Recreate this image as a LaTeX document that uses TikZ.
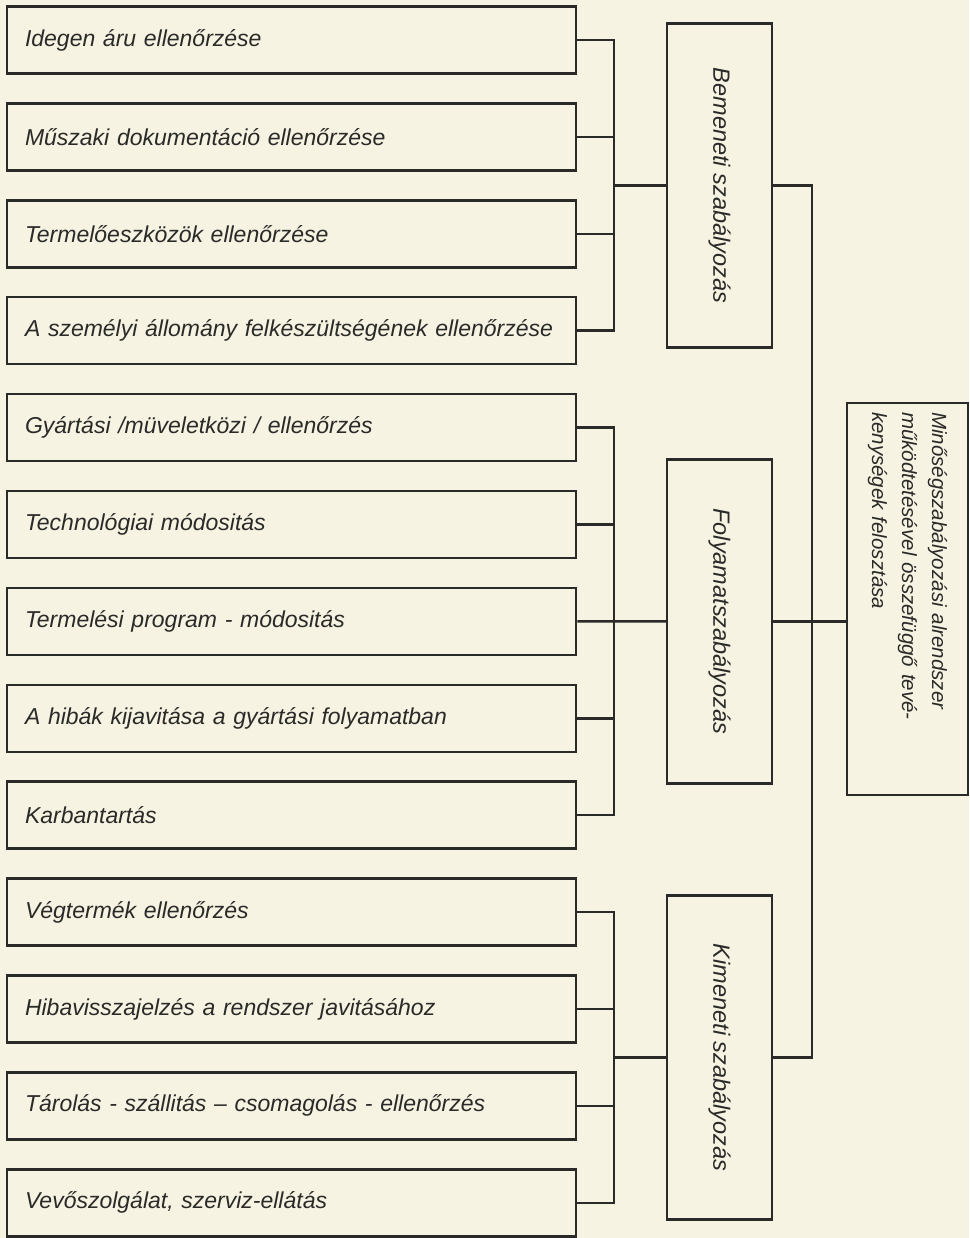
\documentclass[tikz,border=0pt]{standalone}
\usepackage{fontspec}
\setmainfont{Liberation Sans}
\definecolor{paper}{RGB}{246,243,226}
\definecolor{ink}{RGB}{42,42,40}

\begin{document}
\begin{tikzpicture}[x=1pt, y=-1pt, node distance=96.9pt, color=ink, line width=2.5pt,
    item/.style={draw, rectangle, text width=533pt, inner xsep=18pt, minimum height=67pt, align=left, font=\fontsize{23}{28}\selectfont\itshape},
    group/.style={draw, rectangle, rotate=-90, minimum width=324pt, minimum height=105pt, font=\fontsize{23.5}{28}\selectfont\itshape},
    total/.style={draw, rectangle, rotate=-90, minimum width=392pt, minimum height=121pt, text width=374pt, inner xsep=9pt, align=left, font=\fontsize{20.5}{30}\selectfont\itshape}]
        \fill[paper] (0,0) rectangle (969,1238);

        \node[item] (idegen) at (291.5,40) {Idegen áru ellenőrzése};
        \node[item, below of=idegen] (muszaki) {Műszaki dokumentáció ellenőrzése};
        \node[item, below of=muszaki] (eszkozok) {Termelőeszközök ellenőrzése};
        \node[item, below of=eszkozok] (szemelyi) {A személyi állomány felkészültségének ellenőrzése};
        \node[item, below of=szemelyi] (gyartasi) {Gyártási /müveletközi / ellenőrzés};
        \node[item, below of=gyartasi] (technol) {Technológiai módositás};
        \node[item, below of=technol] (program) {Termelési program - módositás};
        \node[item, below of=program] (hibak) {A hibák kijavitása a gyártási folyamatban};
        \node[item, below of=hibak] (karban) {Karbantartás};
        \node[item, below of=karban] (vegtermek) {Végtermék ellenőrzés};
        \node[item, below of=vegtermek] (visszajelzes) {Hibavisszajelzés a rendszer javitásához};
        \node[item, below of=visszajelzes] (tarolas) {Tárolás - szállitás – csomagolás - ellenőrzés};
        \node[item, below of=tarolas] (vevo) {Vevőszolgálat, szerviz-ellátás};

        \node[group] (bemeneti) at (719.5,185.4) {Bemeneti szabályozás};
        \node[group] (folyamat) at (719.5,621.4) {Folyamatszabályozás};
        \node[group] (kimeneti) at (719.5,1057.5) {Kimeneti szabályozás};
        \node[total] (alrendszer) at (907.5,599) {Minőségszabályozási alrendszer\\működtetésével összefüggő tevé-\\kenységek felosztása};

        \coordinate (bem bus) at (614,185.4);
        \coordinate (fol bus) at (614,621.4);
        \coordinate (kim bus) at (614,1057.5);
        \coordinate (trunk) at (812,621.4);

        \draw (idegen.east) -| (bem bus) |- (szemelyi.east);
        \draw (muszaki.east) -- (muszaki.east -| bem bus);
        \draw (eszkozok.east) -- (eszkozok.east -| bem bus);
        \draw (bem bus) -- (bemeneti.south);

        \draw (gyartasi.east) -| (fol bus) |- (karban.east);
        \draw (technol.east) -- (technol.east -| fol bus);
        \draw (hibak.east) -- (hibak.east -| fol bus);
        \draw (program.east) -- (folyamat.south);

        \draw (vegtermek.east) -| (kim bus) |- (vevo.east);
        \draw (visszajelzes.east) -- (visszajelzes.east -| kim bus);
        \draw (tarolas.east) -- (tarolas.east -| kim bus);
        \draw (kim bus) -- (kimeneti.south);

        \draw (bemeneti.north) -| (trunk) |- (kimeneti.north);
        \draw (folyamat.north) -- (folyamat.north -| alrendszer.south);
    \end{tikzpicture}
\end{document}
